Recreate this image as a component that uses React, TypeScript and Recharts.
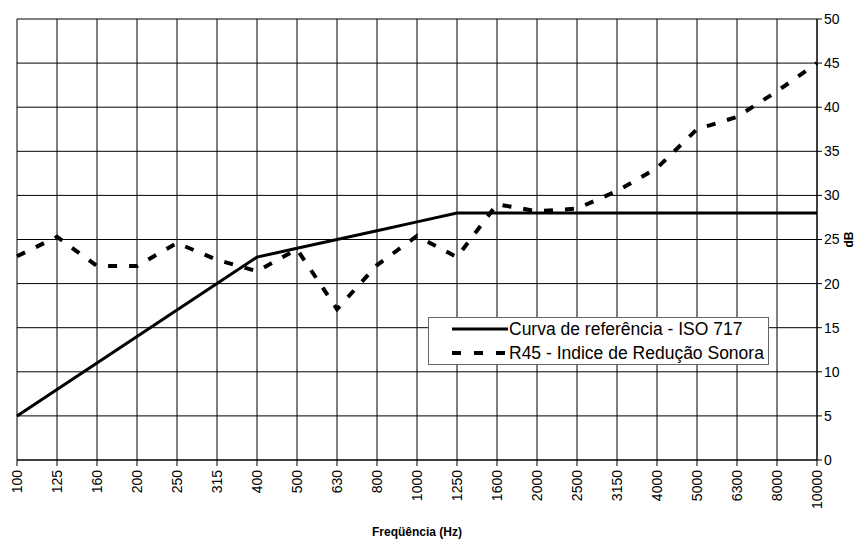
import { LineChart, Line, XAxis, YAxis, CartesianGrid } from "recharts";

const frequencies = [
  "100", "125", "160", "200", "250", "315", "400", "500", "630", "800", "1000",
  "1250", "1600", "2000", "2500", "3150", "4000", "5000", "6300", "8000", "10000",
];

// ISO 717 reference curve
const referenceCurve = [5, 8, 11, 14, 17, 20, 23, 24, 25, 26, 27, 28, 28, 28, 28, 28, 28, 28, 28, 28, 28];

// R45 sound reduction index
const r45 = [
  23.1, 25.3, 22, 22, 24.6, 22.7, 21.4, 23.9, 17.1, 22.1, 25.4, 23,
  29, 28.2, 28.5, 30.5, 33.1, 37.5, 38.9, 41.8, 45,
];

const yTicks = [0, 5, 10, 15, 20, 25, 30, 35, 40, 45, 50];

const FONT = "'Liberation Sans', Arial, sans-serif";

const chartData = frequencies.map((f, i) => ({
  freq: f,
  ref: referenceCurve[i],
  r45: r45[i],
}));

function FreqTick(props: any) {
  const { x, y, payload } = props;
  return (
    <text
      x={x}
      y={y}
      transform={`rotate(-90, ${x}, ${y})`}
      textAnchor="end"
      dx={-2}
      dy={5}
      fontSize={14}
      fontFamily={FONT}
      fill="#000"
    >
      {payload.value}
    </text>
  );
}

export default function App() {
  return (
    <div style={{ position: "absolute", left: 0, top: 0, width: 857, height: 540, background: "#fff" }}>
      <LineChart
        width={857}
        height={540}
        data={chartData}
        margin={{ top: 19, right: 0, left: 17, bottom: 0 }}
      >
        <CartesianGrid stroke="#000" strokeWidth={1} />
        <XAxis
          dataKey="freq"
          interval={0}
          height={80}
          tick={<FreqTick />}
          tickSize={6}
          tickLine={{ stroke: "#000" }}
          axisLine={{ stroke: "#000" }}
          label={{
            content: (p: any) => {
              const vb = p.viewBox;
              return (
                <text
                  x={vb.x + vb.width / 2}
                  y={vb.y + 76}
                  textAnchor="middle"
                  fontSize={12}
                  fontWeight="bold"
                  fontFamily={FONT}
                  fill="#000"
                >
                  Freqüência (Hz)
                </text>
              );
            },
          }}
        />
        <YAxis
          orientation="right"
          width={40}
          domain={[0, 50]}
          ticks={yTicks}
          interval={0}
          tickSize={5}
          tickLine={{ stroke: "#000" }}
          axisLine={{ stroke: "#000" }}
          tick={{ fontSize: 14, fontFamily: FONT, fill: "#000" }}
          label={{
            content: (p: any) => {
              const vb = p.viewBox;
              const cx = vb.x + vb.width - 8;
              const cy = vb.y + vb.height / 2;
              return (
                <text
                  x={cx}
                  y={cy}
                  transform={`rotate(-90, ${cx}, ${cy})`}
                  textAnchor="middle"
                  dominantBaseline="central"
                  fontSize={12}
                  fontWeight="bold"
                  fontFamily={FONT}
                  fill="#000"
                >
                  dB
                </text>
              );
            },
          }}
        />
        <Line
          type="linear"
          dataKey="ref"
          stroke="#000"
          strokeWidth={3}
          dot={false}
          isAnimationActive={false}
        />
        <Line
          type="linear"
          dataKey="r45"
          stroke="#000"
          strokeWidth={4}
          strokeDasharray="9 12"
          dot={false}
          isAnimationActive={false}
        />
      </LineChart>
      <div
        style={{
          position: "absolute",
          left: 428,
          top: 317,
          width: 341,
          height: 48,
          boxSizing: "border-box",
          border: "1px solid #666",
          background: "#fff",
          fontFamily: FONT,
          fontSize: 17.5,
          color: "#000",
        }}
      >
        <div style={{ position: "absolute", left: 23, top: 0, display: "flex", alignItems: "center", height: 22 }}>
          <svg width={56} height={6} style={{ display: "block" }}>
            <line x1={0} y1={3} x2={56} y2={3} stroke="#000" strokeWidth={3} />
          </svg>
          <span style={{ whiteSpace: "nowrap", marginLeft: 1 }}>Curva de referência - ISO 717</span>
        </div>
        <div style={{ position: "absolute", left: 23, top: 24, display: "flex", alignItems: "center", height: 22 }}>
          <svg width={56} height={6} style={{ display: "block" }}>
            <line x1={0} y1={3} x2={56} y2={3} stroke="#000" strokeWidth={4} strokeDasharray="9 13" />
          </svg>
          <span style={{ whiteSpace: "nowrap", marginLeft: 1 }}>R45 - Indice de Redução Sonora</span>
        </div>
      </div>
    </div>
  );
}
